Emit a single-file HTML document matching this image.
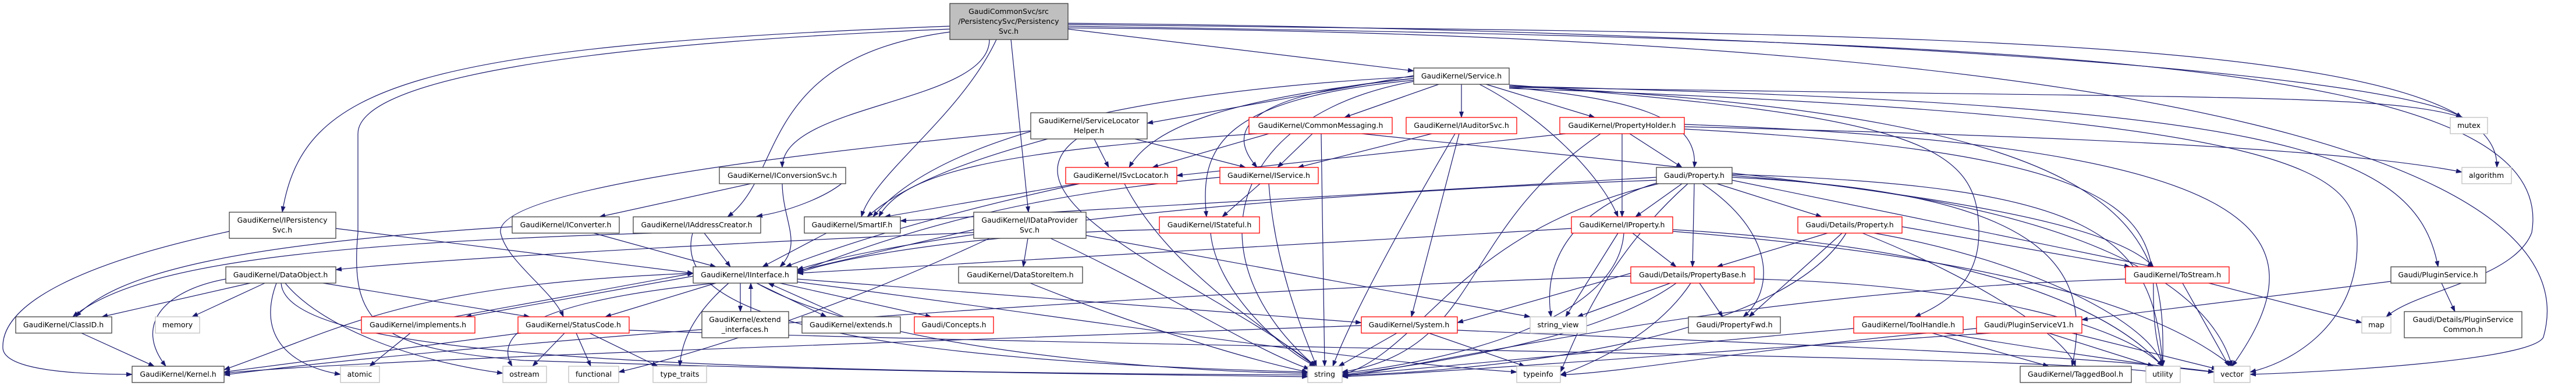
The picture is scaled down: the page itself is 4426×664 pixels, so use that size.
<!DOCTYPE html>
<html><head><meta charset="utf-8"><style>
html,body{margin:0;padding:0;background:#fff;}
svg{display:block;}
text{font-family:"DejaVu Sans","Liberation Sans",sans-serif;font-size:12.5px;fill:#000;text-anchor:middle;}
.e{fill:none;stroke:#191970;stroke-width:1.2;marker-end:url(#a);}
.b{fill:#fff;stroke:#404040;stroke-width:1.3;}
.r{fill:#fff;stroke:#ff0000;stroke-width:1.3;}
.g{fill:#fff;stroke:#bfbfbf;stroke-width:1.3;}
</style></head><body>
<svg width="4426" height="664" viewBox="0 0 4426 664" xmlns="http://www.w3.org/2000/svg">
<defs><marker id="a" markerUnits="userSpaceOnUse" markerWidth="11" markerHeight="8" refX="10" refY="4" orient="auto"><path d="M0,0 L11,4 L0,8 z" fill="#191970"/></marker></defs>
<g>
<path class="e" d="M1835 50 L2429 122"/>
<path class="e" d="M1700 68 C1700 178 1344 178 1344 288"/>
<path class="e" d="M1632 45 C700 80 520 150 485 365"/>
<path class="e" d="M1632 55 C1300 100 1350 300 1250 373"/>
<path class="e" d="M1737 68 L1767 365"/>
<path class="e" d="M1712 68 C1650 200 1500 300 1480 373"/>
<path class="e" d="M1835 40 C3000 50 4100 120 4230 202"/>
<path class="e" d="M1835 42 C3200 60 4300 50 4290 288"/>
<path class="e" d="M1835 45 C3500 70 4400 100 4350 400 C4320 480 4150 500 4100 545"/>
<path class="e" d="M1835 48 C3800 60 4450 300 4370 580 C4350 620 4000 640 3866 644"/>
<path class="e" d="M1632 50 C900 80 615 150 615 230 L615 400 C600 560 650 600 900 620 C1500 640 2000 645 2247 648"/>
<path class="e" d="M2475 144 L2310 202"/>
<path class="e" d="M2511 144 L2511 202"/>
<path class="e" d="M2550 144 L2740 202"/>
<path class="e" d="M2593 150 C2800 170 2920 200 2911 288"/>
<path class="e" d="M2540 144 C2650 200 2750 300 2780 373"/>
<path class="e" d="M2429 135 C2150 160 2100 220 2160 288"/>
<path class="e" d="M2429 135 C2100 170 1980 220 1940 288"/>
<path class="e" d="M2429 130 L1971 212"/>
<path class="e" d="M2429 132 C1900 160 1600 250 1500 373"/>
<path class="e" d="M2429 138 C2100 170 2060 250 2073 373"/>
<path class="e" d="M2593 148 C3900 180 4150 250 4189 459"/>
<path class="e" d="M2593 150 C3800 170 4100 160 4230 202"/>
<path class="e" d="M2593 152 C4000 200 4050 300 4050 420 C4050 550 3950 620 3866 640"/>
<path class="e" d="M2593 146 C3300 200 3400 250 3400 400 C3400 480 3350 520 3290 545"/>
<path class="e" d="M2429 140 C2100 200 2050 450 2260 630"/>
<path class="e" d="M2593 148 C3700 200 3720 400 3716 630"/>
<path class="e" d="M2180 230 L1980 288"/>
<path class="e" d="M2255 230 L2195 288"/>
<path class="e" d="M2270 230 L2276 630"/>
<path class="e" d="M2160 230 C1700 260 1550 300 1510 373"/>
<path class="e" d="M2340 230 C3000 300 3600 350 3700 459"/>
<path class="e" d="M2460 230 L2230 288"/>
<path class="e" d="M2507 230 L2425 545"/>
<path class="e" d="M2500 230 C2400 400 2320 550 2290 630"/>
<path class="e" d="M2800 230 L2890 288"/>
<path class="e" d="M2787 230 L2787 373"/>
<path class="e" d="M2690 230 L2022 302"/>
<path class="e" d="M2750 230 C2500 400 2550 600 2306 640"/>
<path class="e" d="M2894 218 C3800 240 4100 270 4230 296"/>
<path class="e" d="M2894 222 C3600 260 3700 350 3700 500 C3700 580 3710 600 3716 630"/>
<path class="e" d="M2894 214 C3900 250 4000 400 3835 630"/>
<path class="e" d="M1880 239 L1905 288"/>
<path class="e" d="M1950 239 L2140 288"/>
<path class="e" d="M1800 239 C1650 280 1550 320 1490 373"/>
<path class="e" d="M1771 225 C1300 270 850 330 860 400 C870 450 950 500 968 545"/>
<path class="e" d="M1850 239 C1700 350 2100 500 2260 630"/>
<path class="e" d="M1290 316 L1030 373"/>
<path class="e" d="M1453 310 C1420 340 1350 365 1300 372"/>
<path class="e" d="M1344 316 C1345 380 1380 420 1340 459"/>
<path class="e" d="M1855 316 C1700 350 1500 400 1350 459"/>
<path class="e" d="M1850 316 L1520 373"/>
<path class="e" d="M1932 316 C2000 450 2150 550 2260 630"/>
<path class="e" d="M2165 316 L2100 373"/>
<path class="e" d="M2180 316 C2190 450 2230 550 2262 630"/>
<path class="e" d="M2096 305 C1700 340 1500 420 1370 468"/>
<path class="e" d="M2890 316 L2810 373"/>
<path class="e" d="M2950 316 L3130 373"/>
<path class="e" d="M2911 316 L2908 459"/>
<path class="e" d="M2925 316 C3050 400 3050 500 2995 545"/>
<path class="e" d="M2976 310 L3700 459"/>
<path class="e" d="M2846 305 L1547 380"/>
<path class="e" d="M2846 310 C2000 340 1500 420 1370 464"/>
<path class="e" d="M2846 315 C2700 360 2650 450 2665 545"/>
<path class="e" d="M2850 316 C2500 400 2450 600 2306 645"/>
<path class="e" d="M2976 300 C3600 320 3700 400 3716 630"/>
<path class="e" d="M2976 305 C3500 330 3600 450 3560 630"/>
<path class="e" d="M2976 302 C3600 350 3800 500 3835 630"/>
<path class="e" d="M2900 316 C2750 450 2700 600 2681 640"/>
<path class="e" d="M1020 401 L1230 459"/>
<path class="e" d="M880 390 C400 420 200 470 130 545"/>
<path class="e" d="M1210 401 L1255 459"/>
<path class="e" d="M1120 401 C500 420 230 460 125 545"/>
<path class="e" d="M1190 401 C1150 550 1500 620 2247 640"/>
<path class="e" d="M1420 401 L1310 459"/>
<path class="e" d="M1766 410 L1758 459"/>
<path class="e" d="M1673 395 L1370 466"/>
<path class="e" d="M1673 400 C1200 420 700 450 577 464"/>
<path class="e" d="M1805 410 C2000 500 2150 600 2250 635"/>
<path class="e" d="M1700 410 C1400 550 1150 620 1063 640"/>
<path class="e" d="M1866 405 L2629 545"/>
<path class="e" d="M1992 395 C1700 400 1450 440 1370 470"/>
<path class="e" d="M2080 401 C2090 500 2200 600 2260 630"/>
<path class="e" d="M2805 401 L2880 459"/>
<path class="e" d="M2700 393 L1370 470"/>
<path class="e" d="M2780 401 L2690 545"/>
<path class="e" d="M2790 401 C2780 550 2500 620 2306 642"/>
<path class="e" d="M2874 395 C3300 420 3600 500 3716 630"/>
<path class="e" d="M2874 398 C3400 440 3700 520 3835 630"/>
<path class="e" d="M3140 401 L2950 459"/>
<path class="e" d="M3165 401 L3005 545"/>
<path class="e" d="M3268 390 L3660 459"/>
<path class="e" d="M3172 401 C3050 600 2500 640 2306 646"/>
<path class="e" d="M3220 401 C3500 450 3700 560 3716 630"/>
<path class="e" d="M3200 401 C3400 480 3550 580 3566 630"/>
<path class="e" d="M430 487 L175 545"/>
<path class="e" d="M455 487 L330 545"/>
<path class="e" d="M388 480 C280 500 230 560 285 630"/>
<path class="e" d="M475 487 C440 580 500 630 585 644"/>
<path class="e" d="M555 487 L910 545"/>
<path class="e" d="M483 487 C490 600 1000 640 2247 645"/>
<path class="e" d="M490 487 C550 560 700 620 864 642"/>
<path class="e" d="M1191 475 L800 545"/>
<path class="e" d="M1230 487 L1040 545"/>
<path class="e" d="M1272 487 L1272 536"/>
<path class="e" d="M1300 487 L1420 545"/>
<path class="e" d="M1340 487 L1600 545"/>
<path class="e" d="M1370 480 L2339 555"/>
<path class="e" d="M1191 470 C700 490 600 560 385 636"/>
<path class="e" d="M1230 487 C900 520 850 580 880 630"/>
<path class="e" d="M1252 487 C1180 550 1170 600 1168 630"/>
<path class="e" d="M1300 487 C1500 600 2000 640 2247 642"/>
<path class="e" d="M1370 485 C1800 540 2300 620 2606 640"/>
<path class="e" d="M780 545 L1191 470"/>
<path class="e" d="M1290 536 L1290 487"/>
<path class="e" d="M1450 545 L1320 487"/>
<path class="e" d="M705 573 L635 630"/>
<path class="e" d="M970 573 L915 630"/>
<path class="e" d="M990 573 L1015 630"/>
<path class="e" d="M1013 573 L1130 630"/>
<path class="e" d="M895 573 L385 640"/>
<path class="e" d="M1081 568 C2000 600 3500 610 3700 640"/>
<path class="e" d="M140 573 L265 630"/>
<path class="e" d="M2400 573 L2300 630"/>
<path class="e" d="M2455 573 L2620 630"/>
<path class="e" d="M2339 560 C1500 590 600 620 385 642"/>
<path class="e" d="M2504 568 C3000 590 3600 610 3804 640"/>
<path class="e" d="M1770 487 C1950 560 2150 620 2247 640"/>
<path class="e" d="M2920 487 L2960 545"/>
<path class="e" d="M2870 487 L2710 545"/>
<path class="e" d="M2802 470 L2504 555"/>
<path class="e" d="M2880 487 C2750 580 2500 620 2306 645"/>
<path class="e" d="M2905 487 C2850 570 2750 620 2681 645"/>
<path class="e" d="M2802 475 C2000 500 800 590 385 645"/>
<path class="e" d="M3014 480 C3400 490 3650 560 3716 630"/>
<path class="e" d="M3795 487 L4058 555"/>
<path class="e" d="M3750 487 L3830 630"/>
<path class="e" d="M3652 480 C3000 500 2500 620 2306 648"/>
<path class="e" d="M4108 484 L3577 550"/>
<path class="e" d="M4195 487 L4218 536"/>
<path class="e" d="M3420 573 C3000 600 2500 640 2306 648"/>
<path class="e" d="M3520 573 L3700 630"/>
<path class="e" d="M3560 573 L3810 635"/>
<path class="e" d="M3396 565 C3000 600 2800 640 2681 645"/>
<path class="e" d="M3320 573 L3520 630"/>
<path class="e" d="M3185 565 C2800 600 2400 640 2306 646"/>
<path class="e" d="M3340 573 C3500 600 3700 630 3804 640"/>
<path class="e" d="M577 393 L1191 470"/>
<path class="e" d="M394 398 C150 450 0 520 5 600 C10 640 150 644 227 644"/>
</g>
<g>
<rect x="1632" y="6" width="203" height="62" fill="#bfbfbf" stroke="#404040" stroke-width="1.3"/>
<text x="1733" y="24">GaudiCommonSvc/src</text><text x="1733" y="41">/PersistencySvc/Persistency</text><text x="1733" y="58">Svc.h</text>

<rect class="b" x="2429" y="117" width="164" height="28"/><text x="2511" y="135">GaudiKernel/Service.h</text>

<rect class="r" x="2146" y="202" width="246" height="28"/><text x="2269" y="220">GaudiKernel/CommonMessaging.h</text>
<rect class="r" x="2416" y="202" width="190" height="28"/><text x="2511" y="220">GaudiKernel/IAuditorSvc.h</text>
<rect class="r" x="2680" y="202" width="214" height="28"/><text x="2787" y="220">GaudiKernel/PropertyHolder.h</text>
<rect class="b" x="1771" y="194" width="200" height="45"/><text x="1871" y="212">GaudiKernel/ServiceLocator</text><text x="1871" y="229">Helper.h</text>
<rect class="g" x="4210" y="202" width="64" height="28"/><text x="4242" y="220">mutex</text>

<rect class="b" x="1236" y="288" width="217" height="28"/><text x="1344" y="306">GaudiKernel/IConversionSvc.h</text>
<rect class="r" x="1831" y="288" width="191" height="28"/><text x="1926" y="306">GaudiKernel/ISvcLocator.h</text>
<rect class="r" x="2096" y="288" width="169" height="28"/><text x="2180" y="306">GaudiKernel/IService.h</text>
<rect class="b" x="2846" y="288" width="130" height="28"/><text x="2911" y="306">Gaudi/Property.h</text>
<rect class="g" x="4230" y="288" width="85" height="28"/><text x="4272" y="306">algorithm</text>

<rect class="b" x="394" y="365" width="183" height="45"/><text x="485" y="383">GaudiKernel/IPersistency</text><text x="485" y="400">Svc.h</text>
<rect class="b" x="880" y="373" width="184" height="28"/><text x="972" y="391">GaudiKernel/IConverter.h</text>
<rect class="b" x="1088" y="373" width="219" height="28"/><text x="1197" y="391">GaudiKernel/IAddressCreator.h</text>
<rect class="b" x="1382" y="373" width="165" height="28"/><text x="1464" y="391">GaudiKernel/SmartIF.h</text>
<rect class="b" x="1673" y="365" width="193" height="45"/><text x="1769" y="383">GaudiKernel/IDataProvider</text><text x="1769" y="400">Svc.h</text>
<rect class="r" x="1992" y="373" width="172" height="28"/><text x="2078" y="391">GaudiKernel/IStateful.h</text>
<rect class="r" x="2700" y="373" width="174" height="28"/><text x="2787" y="391">GaudiKernel/IProperty.h</text>
<rect class="r" x="3089" y="373" width="179" height="28"/><text x="3178" y="391">Gaudi/Details/Property.h</text>

<rect class="b" x="388" y="459" width="189" height="28"/><text x="482" y="477">GaudiKernel/DataObject.h</text>
<rect class="b" x="1191" y="459" width="179" height="28"/><text x="1280" y="477">GaudiKernel/IInterface.h</text>
<rect class="b" x="1647" y="459" width="213" height="28"/><text x="1753" y="477">GaudiKernel/DataStoreItem.h</text>
<rect class="r" x="2802" y="459" width="212" height="28"/><text x="2908" y="477">Gaudi/Details/PropertyBase.h</text>
<rect class="r" x="3652" y="459" width="178" height="28"/><text x="3741" y="477">GaudiKernel/ToStream.h</text>
<rect class="b" x="4108" y="459" width="163" height="28"/><text x="4189" y="477">Gaudi/PluginService.h</text>

<rect class="b" x="27" y="545" width="165" height="28"/><text x="109" y="563">GaudiKernel/ClassID.h</text>
<rect class="g" x="267" y="545" width="76" height="28"/><text x="305" y="563">memory</text>
<rect class="r" x="621" y="545" width="195" height="28"/><text x="718" y="563">GaudiKernel/implements.h</text>
<rect class="r" x="890" y="545" width="191" height="28"/><text x="985" y="563">GaudiKernel/StatusCode.h</text>
<rect class="b" x="1206" y="536" width="149" height="45"/><text x="1280" y="554">GaudiKernel/extend</text><text x="1280" y="571">_interfaces.h</text>
<rect class="b" x="1378" y="545" width="169" height="28"/><text x="1462" y="563">GaudiKernel/extends.h</text>
<rect class="r" x="1571" y="545" width="136" height="28"/><text x="1639" y="563">Gaudi/Concepts.h</text>
<rect class="r" x="2339" y="545" width="165" height="28"/><text x="2421" y="563">GaudiKernel/System.h</text>
<rect class="g" x="2629" y="545" width="97" height="28"/><text x="2677" y="563">string_view</text>
<rect class="b" x="2901" y="545" width="158" height="28"/><text x="2980" y="563">Gaudi/PropertyFwd.h</text>
<rect class="r" x="3185" y="545" width="188" height="28"/><text x="3279" y="563">GaudiKernel/ToolHandle.h</text>
<rect class="r" x="3396" y="545" width="181" height="28"/><text x="3486" y="563">Gaudi/PluginServiceV1.h</text>
<rect class="g" x="4058" y="545" width="50" height="28"/><text x="4083" y="563">map</text>
<rect class="b" x="4131" y="536" width="202" height="45"/><text x="4232" y="554">Gaudi/Details/PluginService</text><text x="4232" y="571">Common.h</text>

<rect class="b" x="227" y="630" width="158" height="28"/><text x="306" y="648">GaudiKernel/Kernel.h</text>
<rect class="g" x="585" y="630" width="67" height="28"/><text x="618" y="648">atomic</text>
<rect class="g" x="864" y="630" width="75" height="28"/><text x="901" y="648">ostream</text>
<rect class="g" x="977" y="630" width="86" height="28"/><text x="1020" y="648">functional</text>
<rect class="g" x="1122" y="630" width="92" height="28"/><text x="1168" y="648">type_traits</text>
<rect class="g" x="2247" y="630" width="59" height="28"/><text x="2276" y="648">string</text>
<rect class="g" x="2606" y="630" width="75" height="28"/><text x="2643" y="648">typeinfo</text>
<rect class="b" x="3471" y="630" width="191" height="28"/><text x="3566" y="648">GaudiKernel/TaggedBool.h</text>
<rect class="g" x="3687" y="630" width="59" height="28"/><text x="3716" y="648">utility</text>
<rect class="g" x="3804" y="630" width="62" height="28"/><text x="3835" y="648">vector</text>
</g>
</svg>
</body></html>
